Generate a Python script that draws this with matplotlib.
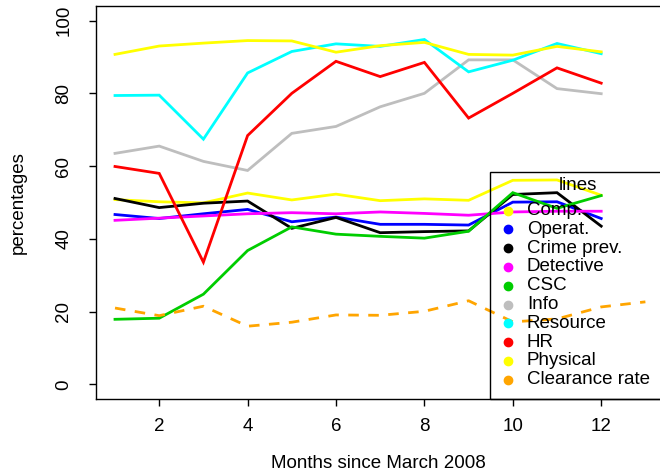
import matplotlib
matplotlib.use('Agg')
import matplotlib.pyplot as plt
from matplotlib.lines import Line2D
from matplotlib.patches import Rectangle

plt.rcParams['font.family'] = ['Liberation Sans', 'DejaVu Sans']

months = [1, 2, 3, 4, 5, 6, 7, 8, 9, 10, 11, 12]
months_clearance = [1, 2, 3, 4, 5, 6, 7, 8, 9, 10, 11, 12, 13]

comp = [50.8, 50.2, 49.9, 52.6, 50.7, 52.3, 50.5, 51.0, 50.6, 56.1, 56.2, 52.0]
operat = [46.7, 45.6, 46.9, 48.1, 44.7, 46.0, 44.0, 44.0, 43.8, 50.1, 50.2, 45.6]
crime_prev = [51.1, 48.6, 49.8, 50.4, 42.9, 45.9, 41.7, 42.0, 42.2, 52.2, 52.7, 43.5]
detective = [45.1, 45.7, 46.3, 46.9, 47.2, 46.9, 47.4, 47.0, 46.5, 47.4, 47.6, 47.6]
csc = [17.9, 18.2, 24.8, 36.8, 43.3, 41.3, 40.7, 40.2, 42.1, 52.7, 48.4, 51.9]
info = [63.5, 65.5, 61.3, 58.8, 69.0, 70.9, 76.3, 80.0, 89.2, 89.2, 81.3, 79.9]
resource = [79.4, 79.5, 67.4, 85.6, 91.5, 93.6, 92.9, 94.8, 85.9, 89.1, 93.7, 90.9]
hr = [59.9, 58.0, 33.6, 68.4, 80.0, 88.8, 84.6, 88.5, 73.2, 80.0, 87.0, 82.8]
physical = [90.7, 93.0, 93.8, 94.5, 94.4, 91.3, 93.1, 94.0, 90.7, 90.5, 92.9, 91.4]
clearance = [21.0, 18.9, 21.5, 16.0, 17.1, 19.1, 19.0, 20.1, 23.0, 17.2, 18.0, 21.3, 22.7]

labels = ['Comp.', 'Operat.', 'Crime prev.', 'Detective', 'CSC', 'Info',
          'Resource', 'HR', 'Physical', 'Clearance rate']
colors = ['#FFFF00', '#0000FF', '#000000', '#FF00FF', '#00CD00', '#BEBEBE',
          '#00FFFF', '#FF0000', '#FFFF00', '#FFA500']
series = [comp, operat, crime_prev, detective, csc, info, resource, hr, physical]

W, H = 660, 472
FS = 13.5


def fx(px):
    return px / W


def fy(py):
    return 1 - py / H


fig = plt.figure(figsize=(W / 100, H / 100), dpi=100)
ax = fig.add_axes([fx(96), fy(399), (661 - 96) / W, (399 - 6) / H])

for values, col in zip(series, colors):
    ax.plot(months, values, color=col, lw=2, solid_joinstyle='miter')
ax.plot(months_clearance, clearance, color=colors[-1], lw=2,
        linestyle=(0, (3.8, 3.4)))

ax.set_xlim(0.57, 13.353)
ax.set_ylim(-4, 104)
ax.set_xticks([2, 4, 6, 8, 10, 12])
ax.set_yticks([0, 20, 40, 60, 80, 100])
ax.tick_params(direction='out', length=5, width=1, labelsize=FS)
ax.tick_params(axis='x', pad=8.5)
ax.tick_params(axis='y', pad=12, labelrotation=90)
plt.setp(ax.get_yticklabels(), va='center')
for s in ax.spines.values():
    s.set_linewidth(1)

ax.set_xlabel('Months since March 2008', fontsize=FS)
ax.xaxis.set_label_coords((378.5 - 96) / 565, -(463 - 399) / 393)
ax.xaxis.label.set_va('center')
ax.set_ylabel('percentages', fontsize=FS)
ax.yaxis.set_label_coords(-(96 - 18) / 565, 0.5)
ax.yaxis.label.set_va('center')

# legend box, see-through like base R
fig.add_artist(Rectangle((fx(490), fy(399)), fx(220), (399 - 172) / H,
                         transform=fig.transFigure, fill=False,
                         edgecolor='black', lw=1))
fig.text(fx(578), fy(186), 'lines', fontsize=FS, ha='center', va='center')
for i, (lab, col) in enumerate(zip(labels, colors)):
    y = 210.5 + i * 18.8
    fig.add_artist(Line2D([fx(508)], [fy(y)], transform=fig.transFigure,
                          marker='o', markersize=6, color=col, lw=0))
    fig.text(fx(527), fy(y), lab, fontsize=FS, ha='left', va='center')

plt.savefig('out.png', dpi=100)
